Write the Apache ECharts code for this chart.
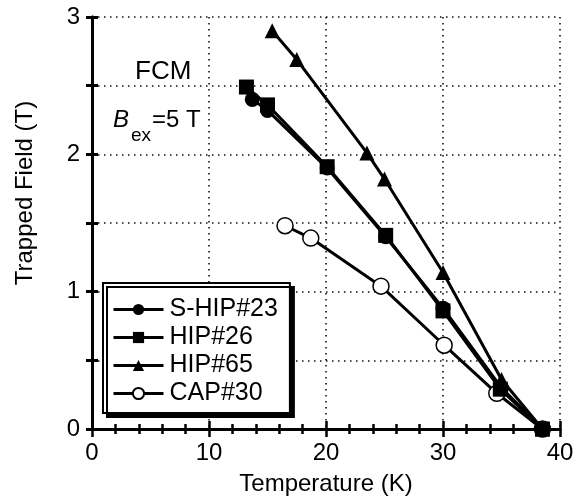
<!DOCTYPE html>
<html>
<head>
<meta charset="utf-8">
<script src="https://cdn.jsdelivr.net/npm/echarts@6/dist/echarts.min.js"></script>
<style>html,body{margin:0;padding:0;background:#fff}#c{width:587px;height:502px}</style>
</head>
<body>
<div id="c"></div>
<script>
// Data (Temperature K, Trapped field T)
const sHip23 = [[13.7, 2.40], [15.0, 2.32], [20.1, 1.90], [25.1, 1.40], [30.0, 0.88], [35.0, 0.30], [38.5, 0.0]];
const hip26  = [[13.2, 2.49], [15.0, 2.36], [20.1, 1.91], [25.1, 1.41], [30.0, 0.86], [34.9, 0.29], [38.5, 0.0]];
const hip65  = [[15.4, 2.90], [17.5, 2.69], [23.5, 2.01], [25.0, 1.82], [30.0, 1.14], [35.0, 0.36], [38.5, 0.0]];
const cap30  = [[16.5, 1.48], [18.7, 1.39], [24.7, 1.04], [30.1, 0.61], [34.6, 0.26], [38.5, 0.0]];
const seriesNames = ['S-HIP#23', 'HIP#26', 'HIP#65', 'CAP#30'];
const xLabelTitle = 'Temperature (K)';
const yLabelTitle = 'Trapped Field (T)';

const FONT = 'Liberation Sans, Arial, Helvetica, sans-serif';
const chart = echarts.init(document.getElementById('c'));
const dotted = {color: '#111', width: 1.6, type: [1.5, 4.5]};
const axisLine = {show: true, lineStyle: {color: '#000', width: 3}};

function xAx(pos, labels) {
  return {
    type: 'value', position: pos, min: 0, max: 40, interval: 10,
    axisLine: axisLine,
    axisTick: {show: true, inside: true, length: 8, lineStyle: {color: '#000', width: 2.5}},
    minorTick: {show: true, splitNumber: 5, length: 5, lineStyle: {color: '#000', width: 2.5}},
    axisLabel: {show: labels, margin: 12, fontSize: 24, color: '#000', fontFamily: FONT},
    splitLine: {show: labels, lineStyle: dotted},
    name: labels ? xLabelTitle : '', nameLocation: 'middle', nameGap: 43,
    nameTextStyle: {fontSize: 24, color: '#000', fontFamily: FONT}
  };
}
function yAx(pos, labels) {
  return {
    type: 'value', position: pos, min: 0, max: 3, interval: 1,
    axisLine: axisLine,
    axisTick: {show: true, inside: true, length: 6, lineStyle: {color: '#000', width: 3}},
    minorTick: {show: true, splitNumber: 2, length: 6, lineStyle: {color: '#000', width: 3}},
    axisLabel: {show: labels, margin: 12, fontSize: 24, color: '#000', fontFamily: FONT},
    splitLine: {show: labels, lineStyle: dotted},
    minorSplitLine: {show: labels, lineStyle: dotted}
  };
}

function ser(name, data, symbol, size, fill) {
  return {
    name: name, type: 'line', data: data, symbol: symbol, symbolSize: size,
    showAllSymbol: true,
    lineStyle: {color: '#000', width: 3},
    itemStyle: {color: fill, borderColor: '#000', borderWidth: fill === '#fff' ? 1.5 : 0},
    emphasis: {disabled: true}, animation: false
  };
}

chart.setOption({
  animation: false,
  backgroundColor: '#fff',
  grid: {left: 92, right: 27, top: 17, bottom: 73, containLabel: false},
  xAxis: [xAx('bottom', true), xAx('top', false)],
  yAxis: [yAx('left', true), yAx('right', false)],
  legend: {
    data: seriesNames, orient: 'vertical', left: 103, top: 283,
    width: 186, itemWidth: 50, itemHeight: 14, itemGap: 3,
    padding: [14, 12, 7, 9],
    backgroundColor: '#fff', borderColor: '#000', borderWidth: 2,
    shadowColor: '#000', shadowBlur: 0, shadowOffsetX: 4, shadowOffsetY: 4,
    lineStyle: {width: 3, color: '#000'},
    textStyle: {fontSize: 25, color: '#000', fontFamily: FONT, padding: [0, 0, 0, 1]},
    selectedMode: false
  },
  series: [
    ser(seriesNames[3], cap30, 'circle', 16, '#fff'),
    ser(seriesNames[0], sHip23, 'circle', 15, '#000'),
    ser(seriesNames[1], hip26, 'rect', 15, '#000'),
    ser(seriesNames[2], hip65, 'triangle', 15, '#000')
  ],
  graphic: [
    {type: 'text', x: 135, y: 72, style: {text: 'FCM', fontSize: 26, fill: '#000', font: '26px ' + FONT, verticalAlign: 'middle'}},
    {type: 'text', x: 113, y: 120, style: {text: 'B', font: 'italic 24px ' + FONT, fill: '#000', verticalAlign: 'middle'}},
    {type: 'text', x: 131, y: 136, style: {text: 'ex', font: '19px ' + FONT, fill: '#000', verticalAlign: 'middle'}},
    {type: 'text', x: 152, y: 120, style: {text: '=5 T', font: '24px ' + FONT, fill: '#000', verticalAlign: 'middle'}},
    {type: 'text', x: 25, y: 193, rotation: Math.PI / 2, style: {text: yLabelTitle, font: '24px ' + FONT, fill: '#000', align: 'center', verticalAlign: 'middle'}}
  ]
});
</script>
</body>
</html>
